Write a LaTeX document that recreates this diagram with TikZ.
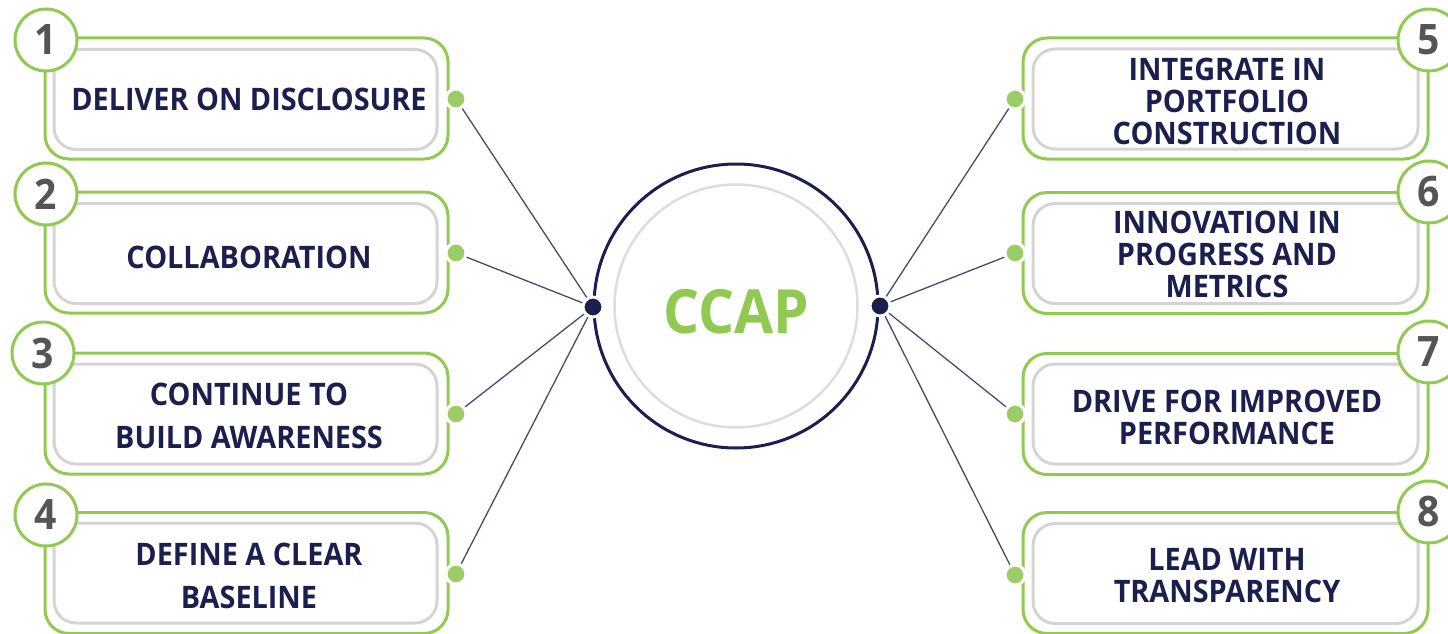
\documentclass[tikz,border=0pt]{standalone}
\usepackage{fontspec}
\setmainfont{Open Sans}[FakeStretch=0.93]
\definecolor{cgreen}{HTML}{92C952}
\definecolor{cdot}{HTML}{9CCC65}
\definecolor{cnavy}{HTML}{1B1F4D}
\definecolor{cgrey}{HTML}{D4D4D4}
\definecolor{cgreyc}{HTML}{DDDDDD}
\definecolor{cdigit}{HTML}{555555}
\definecolor{cline}{HTML}{454A75}
\begin{document}
\begin{tikzpicture}[x=1pt,y=-1pt,
  outerbox/.style={draw=cgreen, line width=3pt, rounded corners=24pt, minimum height=121pt, inner sep=0pt},
  innerbox/.style={draw=cgrey, line width=3pt, rounded corners=22pt, minimum height=100pt, inner sep=0pt},
  numcirc/.style={circle, draw=cgreen, line width=3pt, fill=white, minimum size=62pt, inner sep=0pt, text=cdigit, font=\fontsize{42}{42}\selectfont\bfseries},
  gdot/.style={circle, fill=cdot, draw=white, line width=3pt, minimum size=20pt, inner sep=0pt},
  ndot/.style={circle, fill=cnavy, draw=white, line width=3pt, minimum size=20pt, inner sep=0pt},
  lbl/.style={text=cnavy, align=center, inner sep=0pt, font=\fontsize{31}{32}\selectfont\bfseries},
  lblwide/.style={lbl, font=\fontsize{31}{43}\selectfont\bfseries},
  conn/.style={draw=cline, line width=1.3pt}
]
\useasboundingbox (0,0) rectangle (1448,634);

% center circle
\node[circle, draw=cnavy, line width=3pt, minimum size=284pt, inner sep=0pt] (outerc) at (736,306) {};
\node[circle, draw=cgreyc, line width=2.5pt, minimum size=243pt, inner sep=0pt] (innerc) at (736,306) {};
\node[text=cgreen, inner sep=0pt, font=\fontsize{61}{61}\selectfont\bfseries] (ccap) at (736,312) {CCAP};
\node[ndot] (cl) at (593,307) {};
\node[ndot] (cr) at (880,306) {};

% left boxes
\node[outerbox, minimum width=403pt] (o1) at (246.5,98.5) {};
\node[outerbox, minimum width=403pt] (o2) at (246.5,252.5) {};
\node[outerbox, minimum width=403pt] (o3) at (246.5,413.5) {};
\node[outerbox, minimum width=403pt] (o4) at (246.5,573) {};
\node[innerbox, minimum width=383pt] (i1) at (245.5,99.5) {};
\node[innerbox, minimum width=383pt] (i2) at (245.5,253.5) {};
\node[innerbox, minimum width=383pt] (i3) at (245.5,414) {};
\node[innerbox, minimum width=383pt] (i4) at (245.5,573) {};
\node[lbl] (t1) at (249,99) {DELIVER ON DISCLOSURE};
\node[lbl] (t2) at (249,257) {COLLABORATION};
\node[lblwide] (t3) at (249,415.5) {CONTINUE TO\\BUILD AWARENESS};
\node[lblwide] (t4) at (249,576) {DEFINE A CLEAR\\BASELINE};
\node[numcirc] (n1) at (46,40) {1};
\node[numcirc] (n2) at (46,194) {2};
\node[numcirc] (n3) at (43,353) {3};
\node[numcirc] (n4) at (46,515) {4};
\node[gdot] (d1) at (456,99) {};
\node[gdot] (d2) at (456,253) {};
\node[gdot] (d3) at (456,414) {};
\node[gdot] (d4) at (456,574) {};

% right boxes
\node[outerbox, minimum width=405pt] (o5) at (1225.5,98.5) {};
\node[outerbox, minimum width=405pt] (o6) at (1225.5,253) {};
\node[outerbox, minimum width=405pt] (o7) at (1225.5,414) {};
\node[outerbox, minimum width=405pt] (o8) at (1225.5,573) {};
\node[innerbox, minimum width=385pt] (i5) at (1225.5,99) {};
\node[innerbox, minimum width=385pt] (i6) at (1225.5,253.5) {};
\node[innerbox, minimum width=385pt] (i7) at (1225.5,414) {};
\node[innerbox, minimum width=385pt] (i8) at (1225.5,573.5) {};
\node[lbl] (t5) at (1227,101) {INTEGRATE IN\\PORTFOLIO\\CONSTRUCTION};
\node[lbl] (t6) at (1227,254) {INNOVATION IN\\PROGRESS AND\\METRICS};
\node[lbl] (t7) at (1227,417) {DRIVE FOR IMPROVED\\PERFORMANCE};
\node[lbl] (t8) at (1227,576) {LEAD WITH\\TRANSPARENCY};
\node[numcirc] (n5) at (1429,40) {5};
\node[numcirc] (n6) at (1429,192) {6};
\node[numcirc] (n7) at (1429,352) {7};
\node[numcirc] (n8) at (1429,512) {8};
\node[gdot] (d5) at (1015,99) {};
\node[gdot] (d6) at (1015,253) {};
\node[gdot] (d7) at (1015,414) {};
\node[gdot] (d8) at (1015,575) {};

% connectors
\foreach \d in {d1,d2,d3,d4} \draw[conn] (cl) -- (\d);
\foreach \d in {d5,d6,d7,d8} \draw[conn] (cr) -- (\d);
\end{tikzpicture}
\end{document}
